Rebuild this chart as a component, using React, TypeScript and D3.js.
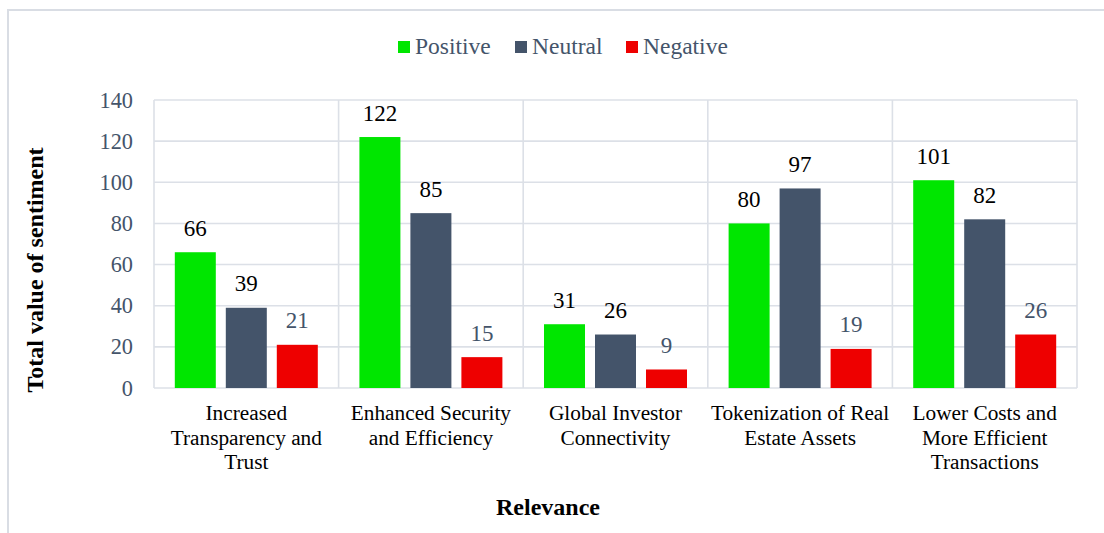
import React from "react";
import * as d3 from "d3";

const categories: string[][] = [
  ["Increased", "Transparency and", "Trust"],
  ["Enhanced Security", "and Efficiency"],
  ["Global Investor", "Connectivity"],
  ["Tokenization of Real", "Estate Assets"],
  ["Lower Costs and", "More Efficient", "Transactions"],
];
const seriesNames = ["Positive", "Neutral", "Negative"];
const positive = [66, 122, 31, 80, 101];
const neutral = [39, 85, 26, 97, 82];
const negative = [21, 15, 9, 19, 26];
const yTicks = [0, 20, 40, 60, 80, 100, 120, 140];

const colors = ["#00E600", "#44546A", "#EE0000"];
const labelColors = ["#000000", "#000000", "#44546A"];
const FONT = "'Liberation Serif'";

export default function App() {
  const W = 1104, H = 533;
  const left = 154, right = 1077, top = 100, bottom = 388;
  const series = [positive, neutral, negative];
  const x0 = d3.scaleBand<number>().domain(d3.range(categories.length)).range([left, right]).padding(0);
  const x1 = d3.scaleBand<number>().domain([0, 1, 2]).range([0, x0.bandwidth()]).paddingInner(0.196).paddingOuter(0.408);
  const y = d3.scaleLinear().domain([0, 140]).range([bottom, top]);
  const grid = "#DCE0E7";
  const legendX = [398, 515, 626];

  return (
    <svg width={W} height={H} style={{ position: "absolute", left: 0, top: 0, background: "#fff" }}>
      <rect x={8} y={10} width={W + 10} height={H + 10} fill="#fff" stroke="#D9DDE4" strokeWidth={2} />
      {yTicks.map((t) => (
        <line key={"h" + t} x1={left} x2={right} y1={y(t)} y2={y(t)} stroke={grid} strokeWidth={1.6} />
      ))}
      {d3.range(categories.length + 1).map((i) => {
        const xv = i < categories.length ? (x0(i) as number) : right;
        return <line key={"v" + i} x1={xv} x2={xv} y1={top} y2={bottom} stroke={grid} strokeWidth={1.6} />;
      })}
      {yTicks.map((t) => (
        <text key={"yt" + t} x={133} y={y(t) + 7.5} textAnchor="end" fill="#44546A" fontSize={22.3} fontFamily={FONT}>
          {String(t)}
        </text>
      ))}
      {categories.map((_, ci) =>
        series.map((s, si) => {
          const bx = (x0(ci) as number) + (x1(si) as number);
          const bw = x1.bandwidth();
          const v = s[ci];
          return (
            <g key={`b${ci}-${si}`}>
              <rect x={bx} y={y(v)} width={bw} height={bottom - y(v)} fill={colors[si]} />
              <text x={bx + bw / 2} y={y(v) - 16.5} textAnchor="middle" fill={labelColors[si]} fontSize={23} fontFamily={FONT}>
                {String(v)}
              </text>
            </g>
          );
        })
      )}
      {categories.map((lines, ci) => {
        const cx = (x0(ci) as number) + x0.bandwidth() / 2;
        return lines.map((ln, li) => (
          <text key={`c${ci}-${li}`} x={cx} y={420 + li * 24.5} textAnchor="middle" fill="#000" fontSize={21.3} fontFamily={FONT}>
            {ln}
          </text>
        ));
      })}
      <text x={548} y={515} textAnchor="middle" fill="#000" fontSize={24} fontWeight="bold" fontFamily={FONT}>
        Relevance
      </text>
      <text transform={`translate(43,270) rotate(-90)`} textAnchor="middle" fill="#000" fontSize={24} fontWeight="bold" fontFamily={FONT}>
        Total value of sentiment
      </text>
      {seriesNames.map((n, i) => (
        <g key={"l" + i}>
          <rect x={legendX[i]} y={41} width={12} height={12} fill={colors[i]} />
          <text x={legendX[i] + 17} y={54} fill="#44546A" fontSize={23.5} fontFamily={FONT}>
            {n}
          </text>
        </g>
      ))}
    </svg>
  );
}
